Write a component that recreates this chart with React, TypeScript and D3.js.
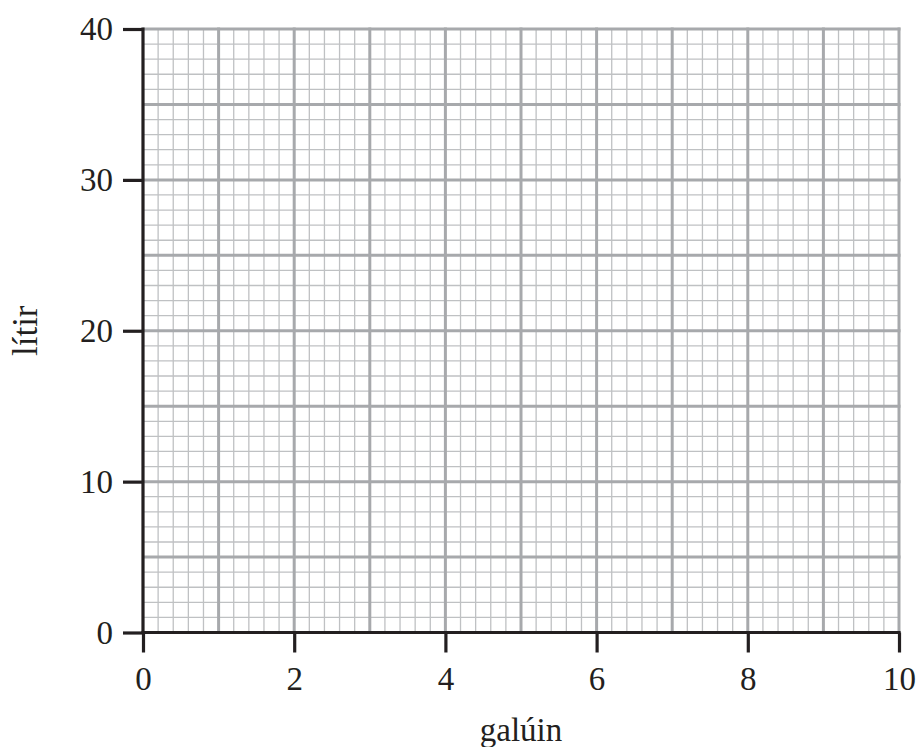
import * as React from 'react';
import { axisBottom, axisLeft, range, scaleLinear, select } from 'd3';

const xTicks = [0, 2, 4, 6, 8, 10];
const yTicks = [0, 10, 20, 30, 40];
const xMajor = [1, 2, 3, 4, 5, 6, 7, 8, 9, 10];
const yMajor = [5, 10, 15, 20, 25, 30, 35, 40];
const xDomain = [0, 10];
const yDomain = [0, 40];
const xTitle = 'galúin';
const yTitle = 'lítir';

const W = 918;
const H = 747;
const margin = { left: 143, right: 19, top: 29, bottom: 114.5 };
const font = 'Liberation Serif';
const ink = '#231f20';

const App = () => {
    const svgRef = React.useRef<SVGSVGElement>(null);

    React.useEffect(() => {
        const svg = select(svgRef.current);
        svg.selectAll('*').remove();

        const x = scaleLinear().domain(xDomain).range([margin.left, W - margin.right]);
        const y = scaleLinear().domain(yDomain).range([H - margin.bottom, margin.top]);

        const grid = svg.append('g');
        // minor grid: 0.2 gallon by 1 litre
        grid.selectAll('.vmin')
            .data(range(0, 50).map((i) => i * 0.2).filter((v) => Math.abs(v - Math.round(v)) > 1e-6))
            .join('line')
            .attr('x1', (d) => x(d)).attr('x2', (d) => x(d))
            .attr('y1', y(0)).attr('y2', y(40))
            .attr('stroke', '#bfc1c3').attr('stroke-width', 1.3);
        grid.selectAll('.hmin')
            .data(range(1, 40).filter((v) => v % 5 !== 0))
            .join('line')
            .attr('x1', x(0)).attr('x2', x(10))
            .attr('y1', (d) => y(d)).attr('y2', (d) => y(d))
            .attr('stroke', '#bfc1c3').attr('stroke-width', 1.3);

        // major grid
        grid.selectAll('.vmaj')
            .data(xMajor)
            .join('line')
            .attr('x1', (d) => x(d)).attr('x2', (d) => x(d))
            .attr('y1', y(0)).attr('y2', y(40) - 1.5)
            .attr('stroke', '#a7a9ac').attr('stroke-width', 3);
        grid.selectAll('.hmaj')
            .data(yMajor)
            .join('line')
            .attr('x1', x(0)).attr('x2', x(10) + 1.5)
            .attr('y1', (d) => y(d)).attr('y2', (d) => y(d))
            .attr('stroke', '#a7a9ac').attr('stroke-width', 3);

        // axes
        const xAxis = axisBottom(x).tickValues(xTicks).tickSize(20).tickPadding(14).tickSizeOuter(0);
        const yAxis = axisLeft(y).tickValues(yTicks).tickSize(20).tickPadding(10).tickSizeOuter(0);

        const gx = svg.append('g').attr('transform', `translate(0, ${y(0)})`).call(xAxis as any);
        const gy = svg.append('g').attr('transform', `translate(${x(0)}, 0)`).call(yAxis as any);

        [gx, gy].forEach((g) => {
            g.attr('font-family', font).attr('font-size', 33);
            g.select('.domain').attr('stroke', ink).attr('stroke-width', 3.2);
            g.selectAll('.tick line').attr('stroke', ink).attr('stroke-width', 3.2);
            g.selectAll('.tick text').attr('fill', ink);
        });
        gy.select('.domain').attr('d', `M0,${y(0) + 1.6}V${y(40) - 1.6}`);
        gx.select('.domain').attr('d', `M${x(0) - 1.6},0H${x(10) + 1.6}`);

        svg.append('text')
            .attr('x', (x(0) + x(10)) / 2)
            .attr('y', 741)
            .attr('text-anchor', 'middle')
            .attr('fill', ink)
            .attr('font-family', font)
            .attr('font-size', 33)
            .text(xTitle);

        svg.append('text')
            .attr('transform', `translate(37, ${(y(0) + y(40)) / 2}) rotate(-90)`)
            .attr('text-anchor', 'middle')
            .attr('fill', ink)
            .attr('font-family', font)
            .attr('font-size', 35)
            .text(yTitle);
    }, []);

    return (
        <svg
            ref={svgRef}
            width={W}
            height={H}
            style={{ position: 'absolute', left: 0, top: 0, background: '#ffffff' }}
        />
    );
};

export default App;
